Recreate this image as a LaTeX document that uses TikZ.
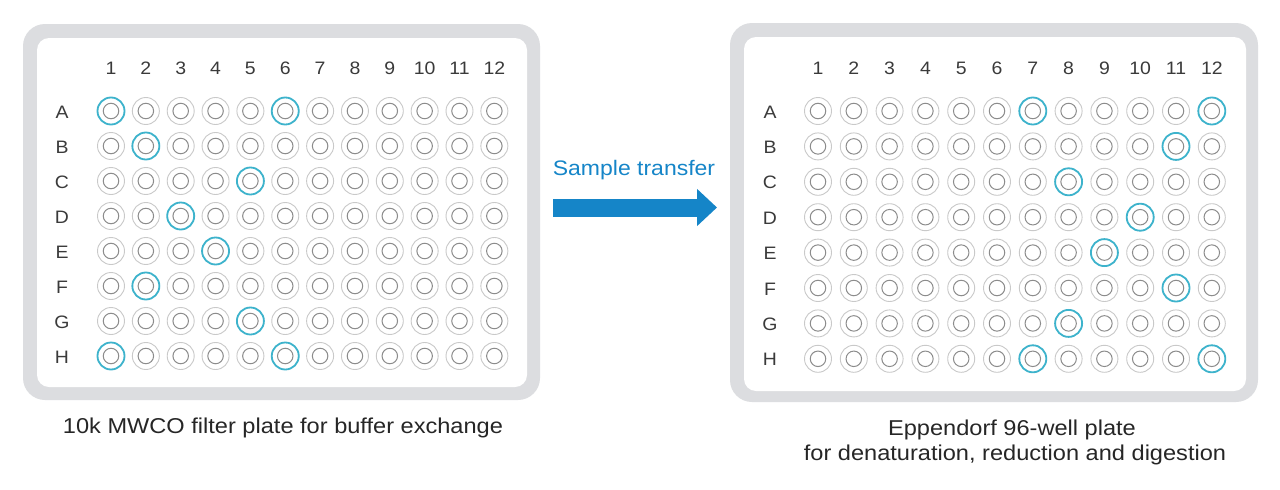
\documentclass[tikz,border=0pt]{standalone}
\usepackage{fontspec}
\setmainfont{Liberation Sans}
\usetikzlibrary{arrows.meta}
\definecolor{platebd}{HTML}{DCDDE0}
\definecolor{wellout}{HTML}{C9C9C9}
\definecolor{wellin}{HTML}{8C8C8C}
\definecolor{hl}{HTML}{3DB3CC}
\definecolor{txt}{HTML}{3A3A3A}
\definecolor{arrowblue}{HTML}{1585C8}
\begin{document}
\begin{tikzpicture}[x=1pt,y=-1pt,
  plateouter/.style={fill=platebd, rounded corners=22pt},
  plateinner/.style={fill=white, rounded corners=12pt},
  well/.style={circle, draw=wellout, line width=0.9pt, minimum size=27pt, inner sep=0pt, fill=white},
  hlwell/.style={well, draw=hl, line width=1.8pt},
  core/.style={circle, draw=wellin, line width=1pt, minimum size=15.5pt, inner sep=0pt},
  lab/.style={text=txt, font=\fontsize{18}{20}\selectfont, xscale=1.08},
  captext/.style={text=black!85, font=\fontsize{21.5}{25}\selectfont, align=center, xscale=1.097, anchor=base}
]
\useasboundingbox (0,0) rectangle (1280,490);
\fill[white] (0,0) rectangle (1280,490);
% plates
\fill[plateouter] (23,24) rectangle (540,400);
\fill[plateinner] (37,38) rectangle (527,387);
\fill[plateouter] (730,23) rectangle (1258,402);
\fill[plateinner] (744,37) rectangle (1246,391);
% left plate
\foreach \c in {1,...,12}{
  \node[lab] (L-col-\c) at ({111+34.85*(\c-1)},68) {\c};
}
\foreach \r/\n in {A/0,B/1,C/2,D/3,E/4,F/5,G/6,H/7}{
  \node[lab] (L-row-\r) at (62,{112+35*\n}) {\r};
  \foreach \c in {1,...,12}{
    \node[well] (L-\r-\c) at ({111+34.85*(\c-1)},{111+35*\n}) {};
    \node[core] (L-\r-\c-core) at (L-\r-\c) {};
  }
}
\foreach \w in {A-1,A-6,B-2,C-5,D-3,E-4,F-2,G-5,H-1,H-6}{
  \node[hlwell] at (L-\w) {};
  \node[core] at (L-\w) {};
}
% right plate
\foreach \c in {1,...,12}{
  \node[lab] (R-col-\c) at ({818+35.8*(\c-1)},68) {\c};
}
\foreach \r/\n in {A/0,B/1,C/2,D/3,E/4,F/5,G/6,H/7}{
  \node[lab] (R-row-\r) at (770,{112+35.4*\n}) {\r};
  \foreach \c in {1,...,12}{
    \node[well] (R-\r-\c) at ({818+35.8*(\c-1)},{111+35.4*\n}) {};
    \node[core] (R-\r-\c-core) at (R-\r-\c) {};
  }
}
\foreach \w in {A-7,A-12,B-11,C-8,D-10,E-9,F-11,G-8,H-7,H-12}{
  \node[hlwell] at (R-\w) {};
  \node[core] at (R-\w) {};
}
% arrow
\node[text=arrowblue, font=\fontsize{21}{24}\selectfont, xscale=1.095] (xfer) at (634,170) {Sample transfer};
\coordinate (a0) at (553,207.5);
\coordinate (a1) at (717,207.5);
\draw[arrowblue, line width=18pt, -{Triangle[length=20pt,width=36pt]}] (a0) -- (a1);
% captions
\node[captext] (capL) at (283,433) {10k MWCO filter plate for buffer exchange};
\node[captext] (capR1) at (1012,435) {Eppendorf 96-well plate};
\node[captext] (capR2) at (1015,460) {for denaturation, reduction and digestion};
\end{tikzpicture}
\end{document}
